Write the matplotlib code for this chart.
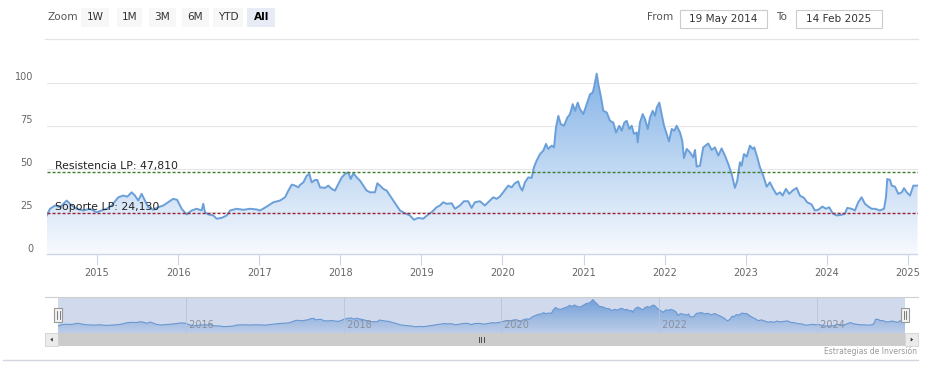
import datetime as dt
import numpy as np
import matplotlib
matplotlib.use("Agg")
import matplotlib.pyplot as plt
import matplotlib.dates as mdates
from matplotlib.colors import LinearSegmentedColormap
from matplotlib.patches import Rectangle, Polygon
from matplotlib.transforms import offset_copy, blended_transform_factory

plt.rcParams['font.family'] = ['DejaVu Sans']

# ---------------- data ----------------
date_years = [
    2014.379, 2014.419, 2014.481, 2014.542, 2014.625, 2014.687, 2014.748, 2014.830, 2014.912, 2014.995,
    2015.057, 2015.118, 2015.180, 2015.262, 2015.323, 2015.373, 2015.427, 2015.468, 2015.508, 2015.550,
    2015.591, 2015.632, 2015.693, 2015.755, 2015.817, 2015.878, 2015.940, 2015.989, 2016.044, 2016.105,
    2016.167, 2016.229, 2016.290, 2016.310, 2016.331, 2016.372, 2016.434, 2016.475, 2016.537, 2016.599,
    2016.640, 2016.722, 2016.804, 2016.886, 2016.969,
    2017.010, 2017.092, 2017.174, 2017.256, 2017.318, 2017.359, 2017.401, 2017.441, 2017.482, 2017.503,
    2017.544, 2017.586, 2017.618, 2017.647, 2017.688, 2017.716, 2017.750, 2017.811, 2017.852, 2017.894,
    2017.935, 2017.976, 2018.018, 2018.058, 2018.099, 2018.129, 2018.161, 2018.203, 2018.243, 2018.284,
    2018.326, 2018.367, 2018.428, 2018.457, 2018.490, 2018.531, 2018.573, 2018.613, 2018.654, 2018.696,
    2018.737, 2018.798, 2018.860, 2018.909, 2018.962, 2019.024, 2019.086, 2019.128, 2019.189, 2019.230,
    2019.271, 2019.313, 2019.375, 2019.415, 2019.477, 2019.526, 2019.579, 2019.621, 2019.662, 2019.724,
    2019.785, 2019.847, 2019.888,
    2019.930, 2019.970, 2020.011, 2020.073, 2020.115, 2020.155, 2020.196, 2020.217, 2020.246, 2020.279,
    2020.320, 2020.361, 2020.390, 2020.423, 2020.464, 2020.505, 2020.538, 2020.566, 2020.608, 2020.637,
    2020.661, 2020.690, 2020.719, 2020.760, 2020.801, 2020.834, 2020.867, 2020.896, 2020.929, 2020.957,
    2020.998, 2021.040, 2021.081, 2021.114, 2021.134, 2021.163, 2021.183, 2021.213, 2021.245, 2021.287,
    2021.327, 2021.368, 2021.401, 2021.442, 2021.472, 2021.504, 2021.533, 2021.566, 2021.595, 2021.623,
    2021.657, 2021.669, 2021.697, 2021.731, 2021.759, 2021.793, 2021.821, 2021.854, 2021.883, 2021.904,
    2021.936, 2021.965, 2021.994, 2022.027, 2022.055, 2022.089, 2022.121, 2022.150, 2022.191, 2022.219,
    2022.240, 2022.274, 2022.314, 2022.355, 2022.376, 2022.397, 2022.438,
    2022.478, 2022.540, 2022.582, 2022.623, 2022.664, 2022.705, 2022.746, 2022.787, 2022.829, 2022.869,
    2022.898, 2022.931, 2022.952, 2022.981, 2023.014, 2023.055, 2023.088, 2023.108, 2023.145, 2023.178,
    2023.219, 2023.261, 2023.301, 2023.342, 2023.384, 2023.425, 2023.458, 2023.499, 2023.539, 2023.581,
    2023.631, 2023.671, 2023.721, 2023.761, 2023.816, 2023.856, 2023.897, 2023.951, 2023.992, 2024.033,
    2024.075, 2024.124, 2024.186, 2024.226, 2024.255, 2024.309, 2024.350, 2024.390, 2024.432, 2024.473,
    2024.514, 2024.556, 2024.597, 2024.658, 2024.708, 2024.732, 2024.748, 2024.782, 2024.803, 2024.843,
    2024.884, 2024.926, 2024.954, 2024.988, 2025.028, 2025.069, 2025.121,
]
prices = [
    22.7, 26.6, 28.5, 27.5, 31.4, 28.5, 26.6, 25.6, 26.6, 24.6,
    25.6, 26.6, 28.5, 33.3, 34.3, 33.7, 36.2, 34.3, 31.4, 35.3,
    31.4, 27.5, 26.0, 27.5, 28.5, 30.4, 32.4, 31.8, 26.6, 23.3,
    25.6, 26.6, 25.6, 29.5, 24.6, 23.3, 22.7, 20.8, 21.3, 22.7,
    25.6, 26.6, 26.0, 26.6, 26.2,
    25.6, 27.9, 30.4, 31.4, 33.3, 37.2, 40.7, 40.1, 39.1, 40.5,
    42.0, 45.9, 46.9, 42.0, 43.4, 43.4, 39.1, 38.8, 40.1, 38.2,
    37.2, 41.1, 44.9, 46.9, 47.8, 44.0, 47.3, 44.9, 43.0, 40.1,
    37.2, 36.2, 36.2, 41.5, 40.1, 38.2, 37.2, 34.3, 31.4, 28.5,
    25.6, 24.0, 22.7, 20.2, 21.3, 20.8, 23.3, 24.6, 27.5, 28.5,
    30.4, 29.5, 29.8, 26.6, 28.5, 31.0, 31.0, 27.1, 30.4, 31.0,
    28.5, 31.4, 33.3,
    32.4, 33.7, 36.2, 40.1, 39.1, 41.5, 42.6, 39.5, 37.2, 42.0,
    44.9, 44.6, 50.8, 54.7, 58.5, 60.5, 64.4, 61.5, 63.4, 62.4,
    74.0, 80.8, 76.0, 75.0, 79.8, 81.8, 87.6, 83.7, 88.5, 84.7,
    81.8, 87.6, 93.4, 94.4, 98.3, 105.4, 99.2, 92.4, 83.7, 82.7,
    77.9, 76.9, 71.1, 75.0, 72.1, 76.9, 77.9, 73.1, 75.0, 70.2,
    71.1, 65.3, 76.9, 81.8, 78.9, 73.1, 79.8, 83.7, 80.8, 85.6,
    88.5, 81.8, 75.0, 70.2, 65.9, 73.1, 72.1, 75.0, 71.1, 66.3,
    56.2, 61.5, 59.5, 56.6, 60.9, 51.2, 51.7,
    62.4, 64.7, 60.9, 62.4, 57.6, 61.8, 57.6, 52.7, 46.9, 38.8,
    43.0, 53.7, 51.7, 58.5, 57.0, 63.4, 61.5, 62.4, 56.6, 50.8,
    45.9, 39.5, 42.0, 38.2, 34.9, 36.2, 34.3, 38.2, 35.3, 37.2,
    38.8, 34.3, 33.0, 30.4, 29.1, 25.6, 26.0, 27.9, 26.6, 27.5,
    24.0, 22.7, 23.1, 23.7, 27.1, 26.6, 25.6, 30.4, 33.3, 29.5,
    27.9, 26.6, 26.6, 25.6, 26.6, 33.3, 44.0, 43.4, 40.1, 39.5,
    35.3, 36.2, 38.6, 36.2, 34.3, 40.1, 40.1,
]
resistance = 47.81
support = 24.13
resistance_label = 'Resistencia LP: 47,810'
support_label = 'Soporte LP: 24,130'
y_ticks = [0, 25, 50, 75, 100]
y_tick_labels = ['0', '25', '50', '75', '100']
x_tick_years = [2015, 2016, 2017, 2018, 2019, 2020, 2021, 2022, 2023, 2024, 2025]
nav_tick_years = [2016, 2018, 2020, 2022, 2024]
zoom_buttons = ['1W', '1M', '3M', '6M', 'YTD', 'All']
selected_button = 'All'
start_date = '2014-05-19'
end_date = '2025-02-14'
range_from = '19 May 2014'
range_to = '14 Feb 2025'
credits_text = 'Estrategias de Inversión'

# ---------------- helpers ----------------
W, H = 934, 377
fig = plt.figure(figsize=(W / 100, H / 100), dpi=100)
fig.patch.set_facecolor('white')


def box(x0, y0, x1, y1):
    return [x0 / W, 1 - y1 / H, (x1 - x0) / W, (y1 - y0) / H]


def to_date(t):
    y = int(t)
    a = dt.datetime(y, 1, 1)
    b = dt.datetime(y + 1, 1, 1)
    return a + (b - a) * (t - y)


xn = mdates.date2num([to_date(t) for t in date_years])
xs = mdates.date2num(dt.datetime.strptime(start_date, '%Y-%m-%d'))
xe = mdates.date2num(dt.datetime.strptime(end_date, '%Y-%m-%d'))

line_color = '#6a9fd9'
cmap = LinearSegmentedColormap.from_list('area', ['#f8fafe', '#6ea6e2'])
grad = np.linspace(0, 1, 256).reshape(-1, 1)

# ---------------- main chart ----------------
ax = fig.add_axes(box(46.7, 40, 917.5, 254.4))
ymax = 125
poly = ax.fill_between(xn, prices, 0, facecolor='none', edgecolor='none')
im = ax.imshow(grad, extent=[xs, xe, 0, ymax], origin='lower', aspect='auto',
               cmap=cmap, zorder=1, interpolation='bilinear')
im.set_clip_path(poly.get_paths()[0], transform=ax.transData)
ax.plot(xn, prices, color=line_color, lw=1.4, zorder=3, solid_joinstyle='round')

for yv in y_ticks[1:]:
    ax.axhline(yv, color='#e6e6e6', lw=0.8, zorder=0.5)

ax.axhline(resistance, color='#3f7d2e', lw=1.0, ls=(0, (2.2, 1.4)), zorder=4)
ax.axhline(support, color='#9a2236', lw=1.0, ls=(0, (2.2, 1.4)), zorder=4)

lab_tr = blended_transform_factory(ax.transAxes, ax.transData)
ax.text((55 - 46.7) / 870.8, resistance + 1.8, resistance_label, transform=lab_tr,
        fontsize=7.8, color='#222222', va='baseline', ha='left', zorder=6)
ax.text((55 - 46.7) / 870.8, support + 1.8, support_label, transform=lab_tr,
        fontsize=7.8, color='#222222', va='baseline', ha='left', zorder=6)

ax.set_xlim(xs, xe)
ax.set_ylim(0, ymax)
ax.set_yticks([])
ax.set_xticks(mdates.date2num([dt.datetime(y, 1, 1) for y in x_tick_years]))
ax.set_xticklabels([str(y) for y in x_tick_years])
ax.tick_params(axis='x', length=8, width=0.8, color='#ccd6eb', labelcolor='#666666',
               labelsize=7, pad=1.5)
for s in ['top', 'right', 'left']:
    ax.spines[s].set_visible(False)
ax.spines['bottom'].set_color('#ccd6eb')
ax.spines['bottom'].set_linewidth(1.0)
ax.patch.set_alpha(0)

ytr = offset_copy(ax.get_yaxis_transform(), fig=fig, x=0, y=5.4, units='dots')
for yv, lab in zip(y_ticks, y_tick_labels):
    ax.text(-(46.7 - 33) / 870.8, yv, lab, transform=ytr, ha='right', va='center',
            fontsize=7, color='#666666', clip_on=False)

# ---------------- navigator ----------------
nav = fig.add_axes(box(58, 297, 905, 333.3))
nav_ymax = 113.5
npoly = nav.fill_between(xn, prices, 0, facecolor='none', edgecolor='none')
nim = nav.imshow(grad, extent=[xs, xe, 0, nav_ymax], origin='lower', aspect='auto',
                 cmap=LinearSegmentedColormap.from_list('nav', ['#e4edf9', '#6ea6e2']),
                 zorder=1, interpolation='bilinear')
nim.set_clip_path(npoly.get_paths()[0], transform=nav.transData)
nav.plot(xn, prices, color=line_color, lw=0.8, zorder=2)
nav.axvspan(xs, xe, color=(102 / 255, 133 / 255, 194 / 255), alpha=0.3, lw=0, zorder=3)
nav_lab_tr = blended_transform_factory(nav.transData, nav.transAxes)
for y in nav_tick_years:
    xv = mdates.date2num(dt.datetime(y, 1, 1))
    nav.axvline(xv, color='#b9c3d9', lw=0.6, zorder=4)
    nav.text(xv, 0.22, ' ' + str(y), transform=nav_lab_tr, fontsize=7, color='#8a909c',
             ha='left', va='center', zorder=5)
nav.set_xlim(xs, xe)
nav.set_ylim(0, nav_ymax)
nav.set_xticks([])
nav.set_yticks([])
for s in nav.spines.values():
    s.set_visible(False)

# ---------------- UI chrome (pixel overlay) ----------------
ov = fig.add_axes([0, 0, 1, 1], zorder=10)
ov.set_xlim(0, W)
ov.set_ylim(H, 0)
ov.axis('off')
ov.patch.set_visible(False)

# range selector
ov.text(47, 17.5, 'Zoom', fontsize=7.6, color='#555555', ha='left', va='center')
btn_x = [(81, 109), (116.7, 141.7), (149, 175.7), (181.7, 209), (213.3, 242.7), (247.3, 275)]
for (bx0, bx1), lab in zip(btn_x, zoom_buttons):
    sel = lab == selected_button
    ov.add_patch(Rectangle((bx0, 8.3), bx1 - bx0, 18.4, facecolor='#e6ebf5' if sel else '#f7f7f7',
                           edgecolor='none'))
    ov.text((bx0 + bx1) / 2, 17.5, lab, fontsize=7.6, color='#000000' if sel else '#333333',
            fontweight='bold' if sel else 'normal', ha='center', va='center')

ov.text(647, 17.5, 'From', fontsize=7.6, color='#555555', ha='left', va='center')
ov.add_patch(Rectangle((680, 10), 86.7, 18.3, facecolor='white', edgecolor='#cccccc', lw=0.8))
ov.text(723.3, 18.5, range_from, fontsize=7.6, color='#333333', ha='center', va='center')
ov.text(776, 17.5, 'To', fontsize=7.6, color='#555555', ha='left', va='center')
ov.add_patch(Rectangle((795.7, 10), 86, 18.3, facecolor='white', edgecolor='#cccccc', lw=0.8))
ov.text(838.7, 18.5, range_to, fontsize=7.6, color='#333333', ha='center', va='center')
ov.plot([45, 918], [39, 39], color='#e3e3e3', lw=0.9)

# navigator outline
ov.plot([45, 918], [297, 297], color='#cfcfcf', lw=0.8)

# handles
for hx in (58.3, 905):
    ov.add_patch(Rectangle((hx - 4, 307.5), 8, 14.5, facecolor='#f2f2f2', edgecolor='#999999', lw=0.8))
    for dx in (-1.2, 1.2):
        ov.plot([hx + dx, hx + dx], [311, 318.5], color='#666666', lw=0.6)

# scrollbar
ov.add_patch(Rectangle((45, 333.3), 873, 12.7, facecolor='#f2f2f2', edgecolor='none'))
ov.add_patch(Rectangle((58.3, 333.3), 846.7, 12.7, facecolor='#cccccc', edgecolor='none'))
ov.add_patch(Rectangle((45, 333.3), 13.3, 12.7, facecolor='#ebebeb', edgecolor='#cccccc', lw=0.5))
ov.add_patch(Rectangle((905, 333.3), 13, 12.7, facecolor='#ebebeb', edgecolor='#cccccc', lw=0.5))
ov.add_patch(Polygon([[50.3, 339.6], [52.8, 337.6], [52.8, 341.6]], closed=True,
                     facecolor='#333333', edgecolor='none'))
ov.add_patch(Polygon([[913.2, 339.6], [910.7, 337.6], [910.7, 341.6]], closed=True,
                     facecolor='#333333', edgecolor='none'))
for gx in (479, 481.3, 483.6):
    ov.plot([gx, gx], [337.3, 342], color='#333333', lw=0.6)

# bottom line and credits
ov.plot([3, 918], [359.5, 359.5], color='#d2d6e2', lw=1.0)
ov.text(917, 351.5, credits_text, fontsize=5.5, color='#999999', ha='right', va='center')

fig.savefig('out.png', dpi=100, facecolor='white')
